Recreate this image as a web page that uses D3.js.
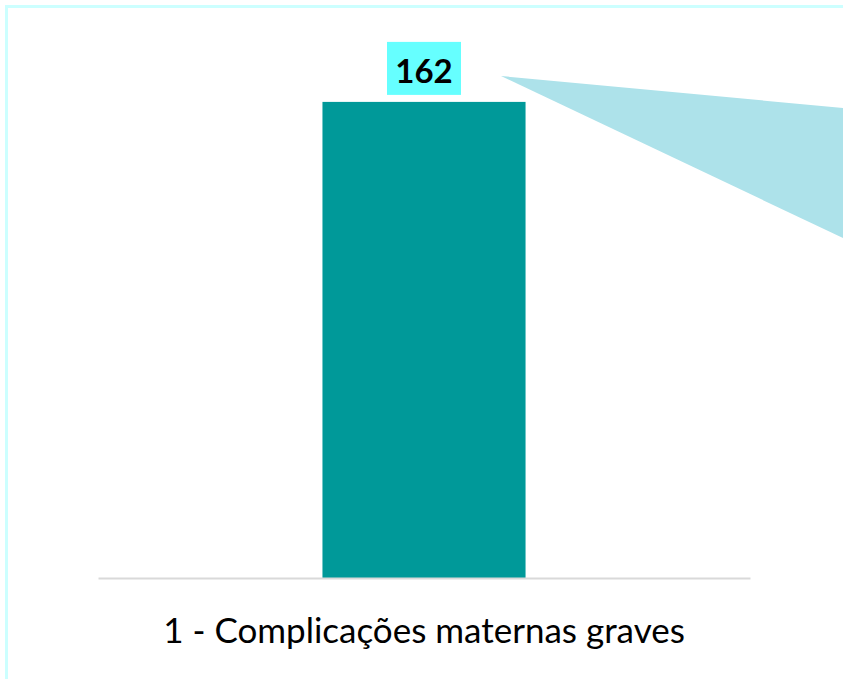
<!DOCTYPE html>
<html>
<head>
<meta charset="utf-8">
<script src="https://cdn.jsdelivr.net/npm/d3@7"></script>
<style>
  html, body { margin: 0; padding: 0; background: #ffffff; }
  svg { display: block; }
</style>
</head>
<body>
<svg id="chart" width="843" height="679"></svg>
<script>
// Data
const categories = ["1 - Complicações maternas graves"];
const values = [162];

const W = 843, H = 679;
const svg = d3.select("#chart");

// Chart area frame
svg.append("rect")
  .attr("x", 6.5).attr("y", 6.5)
  .attr("width", 1000).attr("height", 1000)
  .attr("fill", "#ffffff")
  .attr("stroke", "#ccffff")
  .attr("stroke-width", 3);

const plot = { left: 98, right: 750, top: 49, bottom: 578 };

const x = d3.scaleBand()
  .domain(categories)
  .range([plot.left, plot.right])
  .padding(0.525);

const y = d3.scaleLinear()
  .domain([0, 180])
  .range([plot.bottom, plot.top]);

// Callout pointer shape
svg.append("path")
  .attr("d", "M501,76 L843,108 L843,238 Z")
  .attr("fill", "#ade2ea");

// Bars
svg.selectAll("rect.bar")
  .data(values)
  .join("rect")
  .attr("class", "bar")
  .attr("x", (d, i) => x(categories[i]))
  .attr("width", x.bandwidth())
  .attr("y", d => y(d))
  .attr("height", d => y(0) - y(d))
  .attr("fill", "#009999");

// Category axis
const xAxis = svg.append("g")
  .attr("transform", `translate(0,${plot.bottom})`)
  .call(d3.axisBottom(x).tickSize(0).tickPadding(0));
xAxis.select(".domain")
  .attr("stroke", "#d9d9d9")
  .attr("stroke-width", 2);
xAxis.selectAll(".tick text")
  .attr("y", 65)
  .attr("dy", 0)
  .attr("fill", "#000000")
  .style("font-family", "Lato, 'Open Sans', sans-serif")
  .style("font-size", "35px");

// Value labels with highlighted background
const labels = svg.selectAll("g.label")
  .data(values)
  .join("g")
  .attr("class", "label");

labels.append("rect")
  .attr("x", (d, i) => x(categories[i]) + x.bandwidth() / 2 - 37)
  .attr("y", d => y(d) - 60)
  .attr("width", 74)
  .attr("height", 53)
  .attr("fill", "#66ffff");

labels.append("text")
  .attr("x", (d, i) => x(categories[i]) + x.bandwidth() / 2)
  .attr("y", d => y(d) - 19)
  .attr("text-anchor", "middle")
  .attr("fill", "#000000")
  .style("font-family", "Lato, 'Open Sans', sans-serif")
  .style("font-weight", "bold")
  .style("font-size", "33px")
  .text(d => d);
</script>
</body>
</html>
